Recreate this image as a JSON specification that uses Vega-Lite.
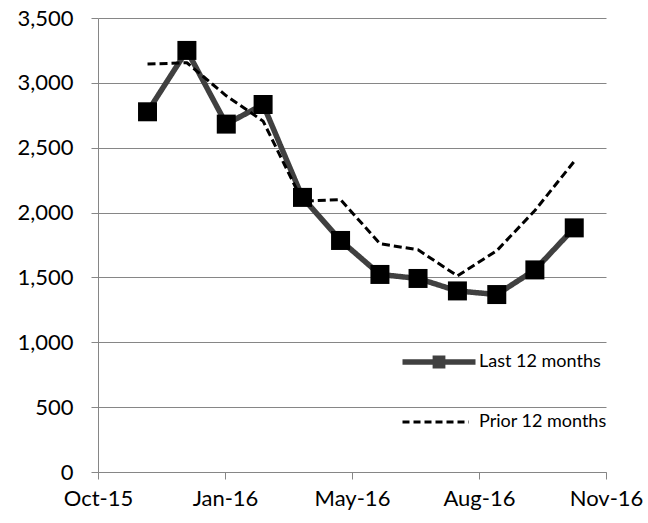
{
  "$schema": "https://vega.github.io/schema/vega-lite/v6.json",
  "width": 508,
  "height": 454,
  "autosize": {"type": "none"},
  "padding": {"left": 98, "top": 18, "right": 42, "bottom": 51},
  "background": "white",
  "config": {"view": {"stroke": null}, "font": "Lato"},
  "data": {
    "values": [
      {"date": "2015-11-30", "series": "Last 12 months", "value": 2777},
      {"date": "2015-12-31", "series": "Last 12 months", "value": 3250},
      {"date": "2016-01-31", "series": "Last 12 months", "value": 2682},
      {"date": "2016-02-29", "series": "Last 12 months", "value": 2833},
      {"date": "2016-03-31", "series": "Last 12 months", "value": 2117},
      {"date": "2016-04-30", "series": "Last 12 months", "value": 1785},
      {"date": "2016-05-31", "series": "Last 12 months", "value": 1523},
      {"date": "2016-06-30", "series": "Last 12 months", "value": 1492},
      {"date": "2016-07-31", "series": "Last 12 months", "value": 1396},
      {"date": "2016-08-31", "series": "Last 12 months", "value": 1368},
      {"date": "2016-09-30", "series": "Last 12 months", "value": 1558},
      {"date": "2016-10-31", "series": "Last 12 months", "value": 1882},
      {"date": "2015-11-30", "series": "Prior 12 months", "value": 3145},
      {"date": "2015-12-31", "series": "Prior 12 months", "value": 3155},
      {"date": "2016-01-31", "series": "Prior 12 months", "value": 2900},
      {"date": "2016-02-29", "series": "Prior 12 months", "value": 2705},
      {"date": "2016-03-31", "series": "Prior 12 months", "value": 2088},
      {"date": "2016-04-30", "series": "Prior 12 months", "value": 2100},
      {"date": "2016-05-31", "series": "Prior 12 months", "value": 1760},
      {"date": "2016-06-30", "series": "Prior 12 months", "value": 1713},
      {"date": "2016-07-31", "series": "Prior 12 months", "value": 1512},
      {"date": "2016-08-31", "series": "Prior 12 months", "value": 1706},
      {"date": "2016-09-30", "series": "Prior 12 months", "value": 2016},
      {"date": "2016-10-31", "series": "Prior 12 months", "value": 2395}
    ]
  },
  "encoding": {
    "x": {
      "field": "date",
      "type": "temporal",
      "scale": {
        "domain": [
          {"year": 2015, "month": 10, "date": 22, "utc": true},
          {"year": 2016, "month": 11, "date": 25, "utc": true}
        ],
        "nice": false
      },
      "axis": {
        "title": null,
        "values": [
          {"year": 2015, "month": 10, "date": 22, "utc": true},
          {"year": 2016, "month": 1, "date": 30, "utc": true},
          {"year": 2016, "month": 5, "date": 9, "utc": true},
          {"year": 2016, "month": 8, "date": 17, "utc": true},
          {"year": 2016, "month": 11, "date": 25, "utc": true}
        ],
        "format": "%b-%y",
        "grid": false,
        "domainColor": "#868686",
        "tickColor": "#868686",
        "tickSize": 7,
        "labelPadding": 9,
        "labelFont": "Lato",
        "labelFontSize": 22,
        "labelColor": "#000000",
        "labelFlush": false,
        "labelOverlap": false,
        "labelBound": false
      }
    },
    "y": {
      "field": "value",
      "type": "quantitative",
      "scale": {"domain": [0, 3500], "nice": false},
      "axis": {
        "title": null,
        "values": [0, 500, 1000, 1500, 2000, 2500, 3000, 3500],
        "format": ",d",
        "grid": true,
        "gridColor": "#868686",
        "domainColor": "#868686",
        "tickColor": "#868686",
        "tickSize": 7,
        "labelPadding": 18,
        "labelFont": "Lato",
        "labelFontSize": 22,
        "labelColor": "#000000"
      }
    }
  },
  "layer": [
    {
      "mark": {"type": "line", "strokeJoin": "round", "strokeCap": "butt"},
      "encoding": {
        "color": {
          "field": "series",
          "type": "nominal",
          "scale": {"domain": ["Last 12 months", "Prior 12 months"], "range": ["#404040", "#000000"]},
          "legend": {
            "title": null,
            "orient": "none",
            "legendX": 332,
            "legendY": 335,
            "padding": 0,
            "symbolSize": 5329,
            "rowPadding": 36,
            "labelOffset": 31,
            "labelFont": "Lato",
            "labelFontSize": 18,
            "labelColor": "#000000",
            "encoding": {
              "symbols": {
                "shape": {"value": {"signal": "datum.value === 'Last 12 months' ? 'M-1,0H1M-0.1,-0.1H0.1V0.1H-0.1Z' : 'M-1,0H0.82'"}},
                "fill": {"value": {"signal": "datum.value === 'Last 12 months' ? '#000000' : 'transparent'"}},
                "strokeWidth": {"value": {"signal": "datum.value === 'Last 12 months' ? 5.5 : 3"}},
                "strokeDash": {"value": {"signal": "datum.value === 'Last 12 months' ? [1, 0] : [7, 4]"}}
              }
            }
          }
        },
        "strokeWidth": {"condition": {"test": "datum.series === 'Last 12 months'", "value": 5.5}, "value": 3},
        "strokeDash": {"condition": {"test": "datum.series === 'Last 12 months'", "value": [1, 0]}, "value": [8, 4]}
      }
    },
    {
      "transform": [{"filter": "datum.series === 'Last 12 months'"}],
      "mark": {"type": "square", "size": 361, "color": "#000000", "filled": true, "opacity": 1}
    }
  ]
}
